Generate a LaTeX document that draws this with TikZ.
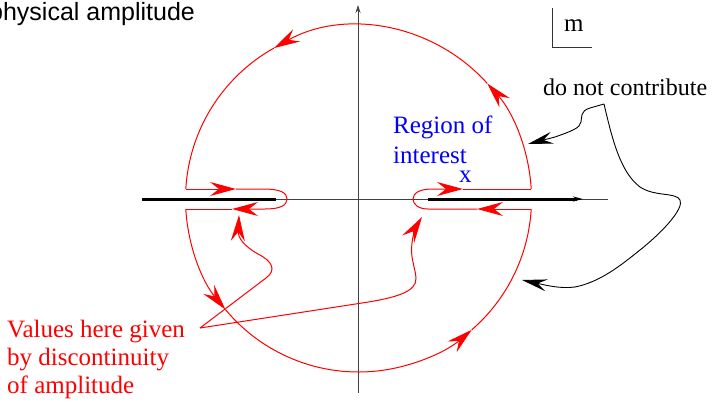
\documentclass[tikz,border=0pt]{standalone}
\usepackage{fontspec}
\setmainfont{Liberation Serif}
\newfontfamily\timesfont{Liberation Serif}
\newfontfamily\arialfont{Liberation Sans}
\usetikzlibrary{arrows.meta}
\begin{document}
\begin{tikzpicture}[x=1pt,y=1pt,
  cont/.style={red, line width=1pt},
  rarrow/.style={cont,-{Stealth[length=26pt,width=14pt,inset=9pt]}},
  barrow/.style={black,line width=0.9pt,-{Stealth[length=25pt,width=12pt,inset=9pt]}},
  axisline/.style={black!75,line width=0.8pt},
  cutline/.style={black,line width=3pt},
  lbl/.style={anchor=base west, inner sep=0pt, font=\timesfont\fontsize{25}{28}\selectfont},
]
\useasboundingbox (0,0) rectangle (719,400);
% axes
\draw[axisline] (142,201) -- (608,201);
\draw[axisline,-{Stealth[length=8pt,width=5pt]}] (358,7) -- (358,395);
\draw[cutline] (142,201) -- (276,201);
\draw[cutline,-{Stealth[length=10pt,width=5pt]}] (428,201) -- (583,201);
% m bracket
\draw[black!80,line width=0.8pt] (552,392) -- (552,353) -- (592,353);
% contour
\coordinate (UR) at (531.2,211);
\coordinate (UL) at (185.8,211);
\coordinate (LL) at (185.8,191);
\coordinate (LR) at (531.2,191);
\draw[rarrow] (UR) arc[start angle=3.31,end angle=41.9,radius=173] coordinate (a1);
\draw[rarrow] (a1) arc[start angle=41.9,end angle=119.3,radius=173] coordinate (a2);
\draw[cont] (a2) arc[start angle=119.3,end angle=176.69,radius=173];
\draw[rarrow] (UL) -- (236,211) coordinate (b1);
\draw[rarrow] (b1) -- (263,211) .. controls (281,211) and (287,207) .. (287,201) .. controls (287,195) and (281,191) .. (265,191) -- (232,191) coordinate (b2);
\draw[cont] (b2) -- (LL);
\draw[rarrow] (LL) arc[start angle=183.31,end angle=219.7,radius=173] coordinate (a3);
\draw[rarrow] (a3) arc[start angle=219.7,end angle=310.9,radius=173] coordinate (a4);
\draw[cont] (a4) arc[start angle=310.9,end angle=356.69,radius=173];
\draw[rarrow] (LR) -- (477,191) coordinate (b3);
\draw[rarrow] (b3) -- (428,191) .. controls (418,191) and (413,196) .. (413,201) .. controls (413,207) and (420,211) .. (432,211) -- (463,211) coordinate (b4);
\draw[cont] (b4) -- (UR);
% labels
\node[anchor=base west, inner sep=0pt, font=\arialfont\fontsize{25}{28}\selectfont] (pa) at (-11,379) {physical amplitude};
\node[lbl] (m) at (564,368) {m};
\node[lbl, font=\timesfont\fontsize{24}{28}\selectfont] (dnc) at (543,305) {do not contribute};
\node[lbl, text=blue] (r1) at (393,267) {Region of};
\node[lbl, text=blue] (r2) at (393,237) {interest};
\node[lbl, text=blue] (xx) at (459,218) {x};
\node[lbl, text=red] (v1) at (7,63) {Values here given};
\node[lbl, text=red] (v2) at (7,35) {by discontinuity};
\node[lbl, text=red] (v3) at (7,7) {of amplitude};
% red connectors
\coordinate (vp) at (200,72);
\draw[rarrow] (vp) -- (266,122) .. controls (277,130) and (272,139) .. (258,146) .. controls (244,154) and (238,162) .. (239,185);
\draw[rarrow] (vp) -- (362,97) .. controls (395,102) and (417,108) .. (416,122) .. controls (415,134) and (410,142) .. (412,157) .. controls (413,167) and (417,175) .. (422,183);
% black connectors
\coordinate (pk) at (604,296);
\draw[barrow] (pk) -- (590,292) .. controls (580,289) and (582,283) .. (581,278) .. controls (580,272) and (572,269) .. (555,263) -- (528,256);
\draw[barrow] (pk) .. controls (612,262) and (620,228) .. (640,213) .. controls (655,203) and (676,208) .. (680,200) .. controls (684,192) and (665,170) .. (640,150) .. controls (620,134) and (600,118) .. (575,113) .. controls (560,111) and (545,115) .. (522,120);
\end{tikzpicture}
\end{document}
